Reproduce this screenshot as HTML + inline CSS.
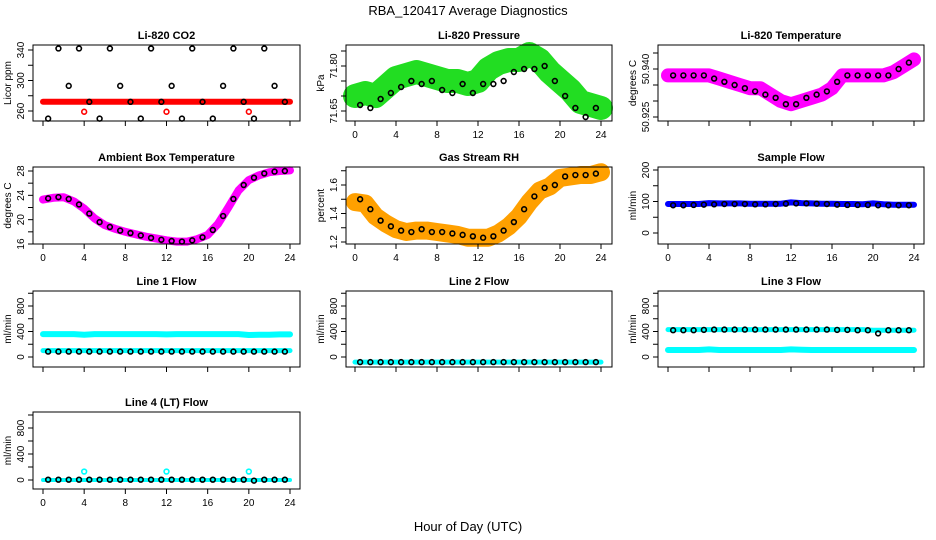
<!DOCTYPE html>
<html><head><meta charset="utf-8">
<style>
html,body{margin:0;padding:0;background:#fff;}
svg{display:block;font-family:"Liberation Sans",Arial,sans-serif;}
</style></head>
<body>
<svg id="chart" width="936" height="540" viewBox="0 0 936 540" xmlns="http://www.w3.org/2000/svg">
<text x="468" y="15" text-anchor="middle" font-size="13">RBA_120417  Average Diagnostics</text>
<text x="468" y="531" text-anchor="middle" font-size="13">Hour of Day (UTC)</text>
</svg>
<script>
const bandHours = [0,1,2,3,4,5,6,7,8,9,10,11,12,13,14,15,16,17,18,19,20,21,22,23,24];
const ptHours = [0.5,1.5,2.5,3.5,4.5,5.5,6.5,7.5,8.5,9.5,10.5,11.5,12.5,13.5,14.5,15.5,16.5,17.5,18.5,19.5,20.5,21.5,22.5,23.5];
const xTicks = [0,4,8,12,16,20,24];

const co2Band = [272,272,272,272,272,272,272,272,272,272,272,272,272,272,272,272,272,272,272,272,272,272,272,272,272];
const co2Pts = [250,342,293,342,272,250,342,293,272,250,342,272,293,250,342,272,250,293,342,272,250,342,293,272];
const co2OutT = [4,12,20];
const co2OutV = [259,259,259];
const presBand = [71.70,71.71,71.70,71.73,71.76,71.77,71.78,71.77,71.76,71.75,71.75,71.74,71.75,71.79,71.81,71.82,71.82,71.84,71.82,71.78,71.75,71.72,71.68,71.67,71.66];
const presPts = [71.67,71.66,71.69,71.71,71.73,71.75,71.74,71.75,71.72,71.71,71.74,71.71,71.74,71.74,71.75,71.78,71.79,71.79,71.80,71.75,71.70,71.66,71.63,71.66];
const tempBand = [50.938,50.938,50.938,50.938,50.938,50.937,50.936,50.935,50.934,50.934,50.932,50.930,50.929,50.930,50.931,50.932,50.934,50.938,50.938,50.938,50.938,50.938,50.939,50.941,50.943];
const tempPts = [50.938,50.938,50.938,50.938,50.937,50.936,50.935,50.934,50.933,50.932,50.931,50.929,50.929,50.931,50.932,50.933,50.936,50.938,50.938,50.938,50.938,50.938,50.940,50.942];
const ambBand = [23.3,23.6,23.7,23.0,21.8,20.2,19.1,18.5,18.0,17.6,17.2,16.9,16.6,16.4,16.4,16.8,17.5,19.3,22.0,24.8,26.5,27.3,27.8,28.0,28.1];
const ambPts = [23.5,23.7,23.4,22.5,21.0,19.6,18.8,18.2,17.8,17.4,17.0,16.7,16.5,16.4,16.6,17.1,18.3,20.6,23.4,25.7,26.9,27.6,27.9,28.0];
const rhBand = [1.48,1.47,1.38,1.33,1.29,1.27,1.28,1.28,1.27,1.26,1.25,1.23,1.23,1.23,1.26,1.31,1.38,1.48,1.56,1.59,1.65,1.66,1.67,1.67,1.69];
const rhPts = [1.50,1.43,1.35,1.31,1.28,1.27,1.29,1.27,1.27,1.26,1.25,1.24,1.23,1.24,1.28,1.34,1.43,1.52,1.58,1.60,1.66,1.67,1.67,1.68];
const sfBand = [92,92,92,92,95,94,94,94,93,93,93,93,97,95,94,93,93,92,92,91,94,91,90,90,90];
const sfPts = [88,88,89,90,91,92,92,92,91,91,92,93,94,94,93,92,90,89,89,89,88,88,88,88];
const l1BandA = [360,360,360,360,350,360,360,360,360,360,360,360,355,360,360,360,360,360,360,360,345,350,350,355,355];
const l1BandB = [100,100,100,100,100,100,100,100,100,100,100,100,100,100,100,100,100,100,100,100,100,100,100,100,100];
const l1Pts = [85,85,85,85,85,85,85,85,85,85,85,85,85,85,85,85,85,85,85,85,85,85,85,85];
const l2Band = [-80,-80,-80,-80,-80,-80,-80,-80,-80,-80,-80,-80,-80,-80,-80,-80,-80,-80,-80,-80,-80,-80,-80,-80,-80];
const l2Pts = [-80,-80,-80,-80,-80,-80,-80,-80,-80,-80,-80,-80,-80,-80,-80,-80,-80,-80,-80,-80,-80,-80,-80,-80];
const l3BandA = [430,430,430,430,430,430,430,430,430,430,430,430,430,430,430,430,430,430,430,430,420,420,420,420,420];
const l3BandB = [110,110,110,110,120,110,110,110,110,110,110,110,120,115,110,110,110,110,110,110,110,110,110,110,110];
const l3Pts = [420,420,420,425,430,430,430,430,430,430,430,430,430,430,430,430,425,425,420,420,370,420,420,420];
const l4Band = [0,0,0,0,0,0,0,0,0,0,0,0,0,0,0,0,0,0,0,0,0,0,0,0,0];
const l4Pts = [5,5,5,5,5,5,5,5,5,5,5,5,5,5,5,5,5,5,5,5,-10,5,5,5];
const l4OutT = [4,12,20];
const l4OutV = [130,130,130];

const svg = document.getElementById('chart');
const NS = 'http://www.w3.org/2000/svg';
function mk(tag, attrs, parent){ const e=document.createElementNS(NS,tag); for(const k in attrs) e.setAttribute(k,attrs[k]); (parent||svg).appendChild(e); return e; }

const cols = [{l:33,r:300,x0:43,x24:290},{l:346,r:612,x0:355,x24:601},{l:658,r:924,x0:668,x24:914}];
const rows = [{t:45,b:121},{t:167,b:244},{t:291,b:367},{t:412,b:489}];

function panel(cfg){
  const c=cols[cfg.col], r=rows[cfg.row];
  const g=mk('g',{});
  
  
  const xs = t => c.x0 + (c.x24-c.x0)*t/24;
  const ys = v => cfg.y1 + (cfg.y2-cfg.y1)*(v-cfg.v1)/(cfg.v2-cfg.v1);
  const cx=(c.l+c.r)/2;
  const tt=mk('text',{x:cx,y:r.t-6,'text-anchor':'middle','font-size':'11','font-weight':'bold'},g);
  tt.textContent=cfg.title;
  
  
  (cfg.bands||[]).forEach(b=>{
    const pts=bandHours.map((h,i)=>xs(h).toFixed(1)+','+ys(b.v[i]).toFixed(1)).join(' ');
    const pl=mk('polyline',{points:pts,fill:'none',stroke:b.color,'stroke-width':b.w,'stroke-linecap':'round','stroke-linejoin':'round'},g);
    
    
  });
  (cfg.outs||[]).forEach(o=>{
    o.t.forEach((t,i)=>{
      const ci=mk('circle',{cx:xs(t),cy:ys(o.v[i]),r:2.4,fill:'none',stroke:o.color,'stroke-width':1.6},g);
      
      
    });
  });
  if(cfg.pts){
    ptHours.forEach((h,i)=>{
      const ci=mk('circle',{cx:xs(h),cy:ys(cfg.pts[i]),r:2.4,fill:'none',stroke:'#000','stroke-width':1.6},g);
      
      
    });
  }
  const bx=mk('rect',{x:c.l,y:r.t,width:c.r-c.l,height:r.b-r.t,fill:'none',stroke:'#000','stroke-width':1},g);
  
  
  xTicks.forEach(t=>{
    mk('line',{x1:xs(t),x2:xs(t),y1:r.b,y2:r.b+5,stroke:'#000'},g);
    if(cfg.xlab){
      const tx=mk('text',{x:xs(t),y:r.b+17,'text-anchor':'middle','font-size':'10'},g);
      tx.textContent=t;
      
      
    }
  });
  cfg.yt.forEach(v=>{
    const y=ys(v);
    mk('line',{x1:c.l-5,x2:c.l,y1:y,y2:y,stroke:'#000'},g);
  });
  cfg.yl.forEach((lab,i)=>{
    const y=ys(cfg.ylv[i]);
    const tx=mk('text',{x:c.l-9,y:y,'text-anchor':'middle','font-size':'10',transform:'rotate(-90 '+(c.l-9)+' '+y+')'},g);
    tx.textContent=lab;
    
    
  });
  const ya=mk('text',{x:c.l-22,y:(r.t+r.b)/2,'text-anchor':'middle','font-size':'10',transform:'rotate(-90 '+(c.l-22)+' '+((r.t+r.b)/2)+')'},g);
  ya.textContent=cfg.ylab;
  
  
}

const flowT=[0,200,400,600,800,1000];
panel({name:'co2-panel',col:0,row:0,title:'Li-820 CO2',ylab:'Licor ppm',v1:260,y1:111,v2:340,y2:50,yt:[260,280,300,320,340],yl:['260','300','340'],ylv:[260,300,340],bands:[{v:co2Band,color:'#ff0000',w:6}],outs:[{t:co2OutT,v:co2OutV,color:'#ff0000'}],pts:co2Pts,xlab:false});
panel({name:'pressure-panel',col:1,row:0,title:'Li-820 Pressure',ylab:'kPa',v1:71.65,y1:111,v2:71.80,y2:66,yt:[71.65,71.70,71.75,71.80,71.85],yl:['71.65','71.80'],ylv:[71.65,71.80],bands:[{v:presBand,color:'#22dd22',w:24}],pts:presPts,xlab:true});
panel({name:'li820-temperature-panel',col:2,row:0,title:'Li-820 Temperature',ylab:'degrees C',v1:50.925,y1:117,v2:50.940,y2:69,yt:[50.925,50.930,50.935,50.940,50.945],yl:['50.925','50.940'],ylv:[50.925,50.940],bands:[{v:tempBand,color:'#ff00ff',w:14}],pts:tempPts,xlab:false});
panel({name:'ambient-temperature-panel',col:0,row:1,title:'Ambient Box Temperature',ylab:'degrees C',v1:16,y1:244,v2:28,y2:171,yt:[16,18,20,22,24,26,28],yl:['16','20','24','28'],ylv:[16,20,24,28],bands:[{v:ambBand,color:'#ff00ff',w:8}],pts:ambPts,xlab:true});
panel({name:'gas-rh-panel',col:1,row:1,title:'Gas Stream RH',ylab:'percent',v1:1.2,y1:242,v2:1.6,y2:185,yt:[1.2,1.3,1.4,1.5,1.6,1.7],yl:['1.2','1.4','1.6'],ylv:[1.2,1.4,1.6],bands:[{v:rhBand,color:'#ffa000',w:18}],pts:rhPts,xlab:true});
panel({name:'sample-flow-panel',col:2,row:1,title:'Sample Flow',ylab:'ml/min',v1:0,y1:233,v2:200,y2:170,yt:[0,50,100,150,200],yl:['0','100','200'],ylv:[0,100,200],bands:[{v:sfBand,color:'#0000ff',w:6}],pts:sfPts,xlab:true});
panel({name:'line1-flow-panel',col:0,row:2,title:'Line 1 Flow',ylab:'ml/min',v1:0,y1:357,v2:800,y2:306,yt:flowT,yl:['0','400','800'],ylv:[0,400,800],bands:[{v:l1BandA,color:'#00ffff',w:6},{v:l1BandB,color:'#00ffff',w:5}],pts:l1Pts,xlab:false});
panel({name:'line2-flow-panel',col:1,row:2,title:'Line 2 Flow',ylab:'ml/min',v1:0,y1:357,v2:800,y2:306,yt:flowT,yl:['0','400','800'],ylv:[0,400,800],bands:[{v:l2Band,color:'#00ffff',w:5}],pts:l2Pts,xlab:false});
panel({name:'line3-flow-panel',col:2,row:2,title:'Line 3 Flow',ylab:'ml/min',v1:0,y1:357,v2:800,y2:306,yt:flowT,yl:['0','400','800'],ylv:[0,400,800],bands:[{v:l3BandA,color:'#00ffff',w:5},{v:l3BandB,color:'#00ffff',w:6}],pts:l3Pts,xlab:false});
panel({name:'line4-flow-panel',col:0,row:3,title:'Line 4 (LT) Flow',ylab:'ml/min',v1:0,y1:480,v2:800,y2:428,yt:flowT,yl:['0','400','800'],ylv:[0,400,800],bands:[{v:l4Band,color:'#00ffff',w:4}],outs:[{t:l4OutT,v:l4OutV,color:'#00ffff'}],pts:l4Pts,xlab:true});
</script>
</body></html>
